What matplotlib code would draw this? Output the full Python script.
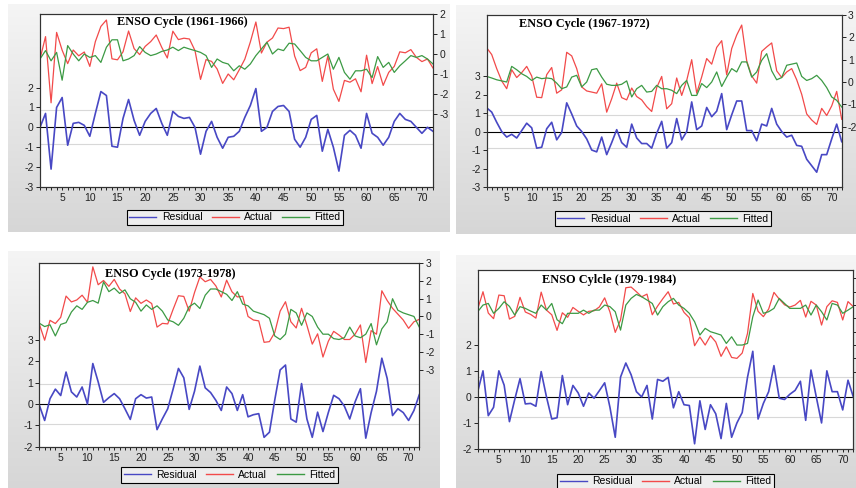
import numpy as np
import matplotlib
matplotlib.use("Agg")
import matplotlib.pyplot as plt
from matplotlib.lines import Line2D
from matplotlib.ticker import MultipleLocator

plt.rcParams['font.family'] = ['Liberation Sans', 'DejaVu Sans']
plt.rcParams['axes.unicode_minus'] = False

obs = np.arange(1, 73)  # observation index 1..72

# ENSO cycle 1961-1966
res1 = [0.0, 0.7, -2.1, 1.0, 1.5, -0.9, 0.2, 0.25, 0.1, -0.45, 0.7, 1.8, 1.6, -0.95, -1.0, 0.45, 1.4, 0.35,
        -0.4, 0.3, 0.7, 0.95, 0.2, -0.4, 0.8, 0.55, 0.45, 0.5, 0.0, -1.35, -0.2, 0.3, -0.5, -1.05, -0.5, -0.45,
        -0.2, 0.5, 1.1, 1.95, -0.2, 0.0, 0.8, 1.05, 1.1, 0.8, -0.6, -1.0, -0.5, 0.4, 0.6, -1.2, -0.1, -1.0,
        -2.2, -0.4, -0.15, -0.4, -1.05, 0.7, -0.3, -0.5, -0.9, -0.5, 0.3, 0.7, 0.4, 0.3, 0.0, -0.3, 0.0, -0.2]
act1 = [-0.25, 0.87, -2.44, 1.08, 0.19, -0.48, 0.2, -0.09, 0.1, -0.62, 0.62, 1.38, 1.7, -0.24, -0.29, 0.11,
        1.15, 0.27, -0.03, 0.38, 0.62, 0.95, 0.33, -0.2, 1.14, 0.72, 0.79, 0.75, 0.17, -1.27, -0.28, -0.37,
        -0.75, -1.47, -1.0, -1.29, -0.79, -0.26, 0.6, 1.6, 0.05, 0.59, 0.8, 1.3, 1.27, 1.34, -0.1, -0.83,
        -0.67, 0.06, 0.26, -1.37, -0.1, -1.76, -2.37, -1.32, -1.41, -1.24, -1.89, -0.06, -1.48, -0.63, -1.57,
        -0.92, -0.62, 0.11, 0.06, 0.22, -0.17, -0.38, -0.25, -0.7]
fit1 = [-0.25, 0.17, -0.34, 0.08, -1.31, 0.42, 0.0, -0.34, 0.0, -0.17, -0.08, -0.42, 0.34, 0.71, 0.71, -0.34,
        -0.25, -0.08, 0.37, 0.08, -0.08, 0.0, 0.13, 0.2, 0.34, 0.17, 0.34, 0.25, 0.17, 0.08, -0.08, -0.67,
        -0.25, -0.42, -0.5, -0.84, -0.59, -0.76, -0.5, -0.08, 0.25, 0.59, 0.0, 0.25, 0.17, 0.54, 0.5, 0.17,
        -0.17, -0.34, -0.34, -0.17, 0.0, -0.76, -0.17, -0.92, -1.26, -0.84, -0.84, -0.76, -1.18, -0.13, -0.67,
        -0.42, -0.92, -0.59, -0.34, -0.08, -0.17, -0.08, -0.25, -0.5]

# ENSO cycle 1967-1972
res2 = [1.28, 1.05, 0.5, 0.0, -0.3, -0.15, -0.35, 0.05, 0.45, 0.2, -0.9, -0.85, 0.15, 0.5, -0.45, -0.05, 1.55,
        0.95, 0.3, 0.0, -0.4, -1.0, -1.1, -0.3, -1.25, -0.6, 0.1, -0.6, -0.85, 0.4, -0.35, -0.65, -0.65, -0.9,
        -0.1, 0.55, -0.9, -0.6, 0.7, -0.45, 0.0, 1.6, 0.1, 0.3, 1.3, 0.8, 1.1, 2.05, 0.1, 0.9, 1.65, 1.65,
        0.05, 0.05, -0.5, 0.4, 0.3, 1.25, 0.4, 0.0, -0.3, -0.2, -0.75, -0.8, -1.5, -1.85, -2.2, -1.25, -1.25,
        -0.4, 0.4, -0.55]
act2 = [1.53, 1.23, 0.6, 0.05, -0.3, 0.55, 0.2, 0.42, 0.7, 0.27, -0.68, -0.7, 0.33, 0.65, -0.5, -0.35, 1.33,
        1.17, 0.6, -0.22, -0.4, -0.45, -0.5, -0.08, -1.35, -0.75, -0.05, -0.7, -0.8, -0.27, -0.65, -0.8, -1.1,
        -1.32, -0.25, 0.25, -1.2, -0.97, 0.18, -0.6, 0.07, 1.0, -0.5, 0.23, 1.05, 0.8, 1.55, 1.85, 0.32, 1.5,
        2.1, 2.55, 0.95, 0.27, -0.05, 1.37, 1.57, 1.75, 0.5, 0.2, 0.45, 0.6, 0.1, -0.55, -1.43, -1.7, -1.9,
        -1.18, -1.5, -1.07, -0.42, -1.67]
fit2 = [0.25, 0.18, 0.1, 0.05, 0.0, 0.7, 0.55, 0.37, 0.25, 0.07, 0.22, 0.15, 0.18, 0.15, -0.05, -0.3, -0.22,
        0.22, 0.3, -0.22, 0.0, 0.55, 0.6, 0.22, -0.1, -0.15, -0.15, -0.1, 0.05, -0.67, -0.3, -0.15, -0.45,
        -0.42, -0.15, -0.3, -0.3, -0.37, -0.52, -0.15, 0.07, -0.6, -0.6, -0.07, -0.25, 0.0, 0.45, -0.2, 0.22,
        0.6, 0.45, 0.9, 0.9, 0.22, 0.45, 0.97, 1.27, 0.5, 0.1, 0.2, 0.75, 0.8, 0.85, 0.25, 0.07, 0.15, 0.3,
        0.07, -0.25, -0.67, -0.82, -1.12]

# ENSO cycle 1973-1978
res3 = [-0.05, -0.77, 0.25, 0.7, 0.4, 1.5, 0.57, 0.33, 0.8, 0.0, 1.9, 1.04, 0.08, 0.3, 0.49, 0.25, -0.22,
        -0.72, 0.25, 0.44, 0.28, 0.33, -1.2, -0.69, -0.22, 0.7, 1.67, 1.23, -0.25, 0.6, 1.78, 0.76, 0.54, 0.17,
        -0.3, 0.8, 0.49, -0.3, 0.44, -0.6, -0.5, -0.45, -1.56, -1.32, 0.2, 1.6, 1.83, -0.7, -0.85, 0.96, -0.7,
        -1.56, -0.38, -1.29, -0.4, 0.41, 0.25, -0.1, -0.7, 0.1, 0.72, -1.6, -0.4, 0.6, 2.15, 1.2, -0.54, -0.22,
        -0.4, -0.77, -0.3, 0.44]
act3 = [-0.43, -1.34, -0.22, -0.4, -0.05, 1.15, 0.82, 0.93, 1.2, 0.8, 2.8, 1.79, 2.03, 1.7, 2.09, 1.55, 1.28,
        0.28, 1.05, 0.74, 0.93, 0.73, -0.6, -0.39, -0.42, 0.4, 1.17, 1.13, 0.3, 1.35, 2.23, 1.96, 2.09, 1.72,
        1.1, 2.05, 1.39, 1.1, 1.14, 0.0, -0.2, -0.25, -1.46, -1.42, -0.9, 0.3, 0.83, -0.3, -0.65, 0.46, -0.5,
        -1.56, -0.98, -2.29, -1.4, -0.84, -1.05, -1.3, -1.3, -1.0, -0.48, -2.6, -0.8, -1.0, 1.45, 0.9, 0.46,
        0.13, -0.2, -0.67, -0.3, -0.16]
fit3 = [-0.38, -0.57, -0.47, -1.1, -0.45, -0.35, 0.25, 0.6, 0.4, 0.8, 0.9, 0.75, 1.95, 1.4, 1.6, 1.3, 1.5,
        1.0, 0.8, 0.3, 0.65, 0.4, 0.6, 0.3, -0.2, -0.3, -0.5, -0.1, 0.55, 0.75, 0.45, 1.2, 1.55, 1.55, 1.4,
        1.25, 0.9, 1.4, 0.7, 0.6, 0.3, 0.2, 0.1, -0.1, -1.1, -1.3, -1.0, 0.4, 0.2, -0.5, 0.2, 0.0, -0.6, -1.0,
        -1.0, -1.25, -1.3, -1.2, -0.6, -1.1, -1.2, -1.0, -0.4, -1.6, -0.7, -0.3, 1.0, 0.35, 0.2, 0.1, 0.0, -0.6]

# ENSO cycle 1979-1984
res4 = [0.2, 1.0, -0.72, -0.4, 1.0, 0.45, -0.95, -0.1, 0.7, -0.27, -0.25, -0.36, 0.97, 0.0, -0.85, -0.8,
        0.82, -0.3, 0.44, 0.15, -0.36, 0.15, -0.05, 0.24, 0.54, -0.4, -1.55, 0.76, 1.3, 0.85, 0.2, 0.0, 0.44,
        -0.85, 0.67, 0.6, 0.75, -0.42, 0.2, -0.3, -0.33, -1.8, -0.15, -1.25, -0.3, -0.65, -1.6, -0.25, -1.55,
        -1.0, -0.6, 0.75, 1.75, -0.85, -0.25, 0.2, 1.2, -0.05, -0.1, 0.1, 0.25, 0.6, -0.9, 1.03, 0.0, -1.0,
        1.0, 0.2, 0.2, -0.5, 0.64, 0.0]
act4 = [-0.3, 1.0, -0.6, -1.02, 0.75, 0.7, -1.05, -0.85, 0.58, -0.52, -0.7, -0.98, 0.97, -0.38, -0.73, -1.9,
        -0.58, -0.92, -0.18, -0.47, -0.74, -0.47, -0.43, -0.14, 0.54, -0.52, -2.05, -1.12, 1.3, 1.35, 1.0,
        0.62, 0.82, -0.73, -0.08, 0.48, 1.0, 0.08, 0.2, -0.55, -0.95, -3.05, -2.4, -3.0, -2.3, -2.77, -3.85,
        -3.13, -3.93, -4.0, -3.6, -2.13, 0.87, -0.47, -0.87, -0.3, 0.95, 0.45, 0.02, -0.15, 0.0, 0.35, -0.9,
        0.28, 0.0, -1.5, -0.12, 0.32, 0.2, -1.12, 0.26, -0.12]
fit4 = [-0.5, 0.0, 0.12, -0.62, -0.25, 0.25, -0.1, -0.75, -0.12, -0.25, -0.45, -0.62, 0.0, -0.38, 0.12, -1.1,
        -1.4, -0.62, -0.62, -0.62, -0.38, -0.62, -0.38, -0.38, 0.0, -0.12, -0.5, -1.88, 0.0, 0.5, 0.8, 0.62,
        0.38, 0.12, -0.75, -0.12, 0.25, 0.5, 0.0, -0.25, -0.62, -1.25, -2.25, -1.75, -2.0, -2.12, -2.25, -2.88,
        -2.38, -3.0, -3.0, -2.88, -0.88, 0.38, -0.62, -0.5, -0.25, 0.5, 0.12, -0.25, -0.25, -0.25, 0.0, -0.75,
        0.0, -0.5, -1.12, 0.12, 0.0, -0.62, -0.38, -0.12]

titles = ["ENSO Cycle (1961-1966)", "ENSO Cycle (1967-1972)",
          "ENSO Cycle (1973-1978)", "ENSO Cylcle (1979-1984)"]
se_band = [0.85, 0.87, 0.93, 0.78]   # +/- std. error guide lines
series = [(res1, act1, fit1), (res2, act2, fit2), (res3, act3, fit3), (res4, act4, fit4)]

W, H = 856, 488
fig = plt.figure(figsize=(W / 100, H / 100), dpi=100)
fig.patch.set_facecolor('white')


def px_box(x0, y0, x1, y1):
    return [x0 / W, 1 - y1 / H, (x1 - x0) / W, (y1 - y0) / H]


# grey gradient panels behind each chart
shade = np.linspace(0.96, 0.84, 120)
img = np.dstack([shade, shade, shade]).reshape(120, 1, 3)
for b in [(8, 4, 450, 232), (456, 5, 856, 234), (8, 251, 440, 488), (456, 255, 856, 488)]:
    bg = fig.add_axes(px_box(*b), zorder=-5)
    bg.imshow(img, aspect='auto')
    bg.axis('off')

layout = [
    dict(box=(40, 14, 433, 187), ylim=(-3, 5.7), ylim2=(-6.65, 2.0), yt=range(-3, 3), yt2=range(-3, 3),
         tpos=(0.196, 0.99), leg=(235, 217.5), lab2=True),
    dict(box=(486.7, 15, 841.7, 187), ylim=(-3, 6.3), ylim2=(-4.7, 3.0), yt=range(-3, 4), yt2=range(-2, 4),
         tpos=(0.091, 0.985), leg=(663, 218.5), lab2=True),
    dict(box=(39.3, 263.3, 419.3, 446.7), ylim=(-2, 6.6), ylim2=(-7.35, 3.0), yt=range(-2, 4), yt2=range(-3, 4),
         tpos=(0.173, 0.975), leg=(229.5, 475), lab2=True),
    dict(box=(477.7, 270, 853.3, 449), ylim=(-2, 4.87), ylim2=(-10.8, 2.63), yt=range(-2, 3), yt2=range(-5, 3),
         tpos=(0.171, 0.975), leg=(665.5, 481.5), lab2=False),
]

c_res, c_act, c_fit = '#4848c4', '#f24a4a', '#3c9a44'

for (res, act, fit), title, se, lay in zip(series, titles, se_band, layout):
    ax = fig.add_axes(px_box(*lay['box']))
    ax2 = ax.twinx()

    ax.axhline(se, color='#d8d8d8', lw=0.8)
    ax.axhline(-se, color='#d8d8d8', lw=0.8)
    ax.axhline(0, color='black', lw=0.8)
    ax.plot(obs, res, color=c_res, lw=1.2)
    ax2.plot(obs, act, color=c_act, lw=0.9)
    ax2.plot(obs, fit, color=c_fit, lw=0.9)

    ax.set_xlim(1, 72)
    ax.set_ylim(*lay['ylim'])
    ax2.set_ylim(*lay['ylim2'])
    ax.set_yticks(list(lay['yt']))
    ax2.set_yticks(list(lay['yt2']))
    ax.xaxis.set_major_locator(MultipleLocator(5))
    ax.xaxis.set_minor_locator(MultipleLocator(1))

    ax.tick_params(axis='x', which='both', direction='out', length=2.5, width=0.7,
                   labelsize=7.5, colors='#222222', pad=2)
    ax.tick_params(axis='y', direction='out', length=3, width=0.7, labelsize=7.5, colors='#222222', pad=1.5)
    ax2.tick_params(axis='y', direction='out', length=3, width=0.7, labelsize=7.5, colors='#222222', pad=1.5,
                    labelright=lay['lab2'])
    for a in (ax, ax2):
        for sp in a.spines.values():
            sp.set_linewidth(0.8)
            sp.set_color('#333333')

    ax2.text(lay['tpos'][0], lay['tpos'][1], title, transform=ax.transAxes, ha='left', va='top',
             fontsize=8.8, fontweight='bold', family='Liberation Serif', zorder=10)

    handles = [Line2D([], [], color=c_res, lw=1.0), Line2D([], [], color=c_act, lw=1.0),
               Line2D([], [], color=c_fit, lw=1.0)]
    leg = fig.legend(handles, ['Residual', 'Actual', 'Fitted'], loc='center',
                     bbox_to_anchor=(lay['leg'][0] / W, 1 - lay['leg'][1] / H), ncol=3,
                     fontsize=7.5, frameon=True, fancybox=False, edgecolor='black', facecolor='#eeeeee',
                     framealpha=1, handlelength=2.6, columnspacing=0.9, handletextpad=0.5, borderpad=0.25)
    leg.get_frame().set_linewidth(0.8)

fig.savefig('out.png', dpi=100)
